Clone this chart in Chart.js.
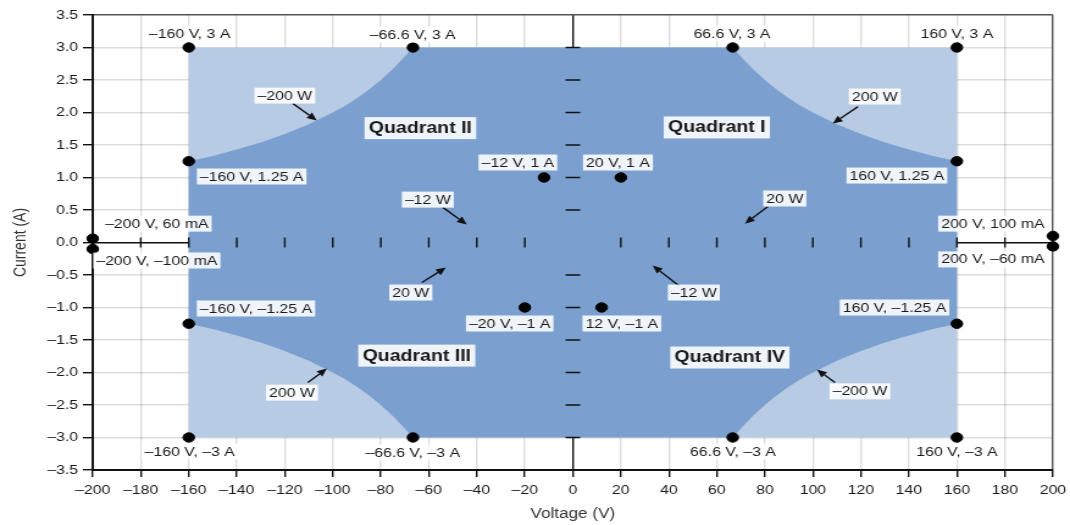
<!DOCTYPE html>
<html>
<head>
<meta charset="utf-8">
<script src="https://cdn.jsdelivr.net/npm/chart.js@4.4.1/dist/chart.umd.min.js"></script>
<style>
html,body{margin:0;padding:0;background:#fff;overflow:hidden;}
#wrap{width:1070px;height:525px;}
#c{display:block;}
</style>
</head>
<body>
<div id="wrap"><canvas id="c" width="877" height="525"></canvas></div>
<script>
// ---- data ----
const xTicks = [-200,-180,-160,-140,-120,-100,-80,-60,-40,-20,0,20,40,60,80,100,120,140,160,180,200];
const yTicks = [-3.5,-3,-2.5,-2,-1.5,-1,-0.5,0,0.5,1,1.5,2,2.5,3,3.5];

// operating limit rectangle (light area)
const rectV = [-160,-160,160,160,-160];
const rectI = [-3,3,3,-3,-3];

// 200 W power-limit boundary (first quadrant)
const curveV = [66.6,70,75,80,85,90,95,100,110,120,130,140,150,160];
const curveI = [3.0,2.86,2.67,2.5,2.35,2.22,2.1,2.0,1.82,1.67,1.54,1.43,1.33,1.25];

// marked operating points
const pointV = [-160,-66.6,66.6,160,-160,160,-12,20,-200,-200,200,200,-20,12,-160,160,-160,-66.6,66.6,160];
const pointI = [3,3,3,3,1.25,1.25,1,1,0.06,-0.1,0.1,-0.06,-1,-1,-1.25,-1.25,-3,-3,-3,-3];

// annotation texts with anchor (V, I)
const labelText = ['–160 V, 3 A','–66.6 V, 3 A','66.6 V, 3 A','160 V, 3 A','–200 W','200 W',
  '–160 V, 1.25 A','–12 V, 1 A','20 V, 1 A','160 V, 1.25 A','–12 W','20 W',
  '–200 V, 60 mA','200 V, 100 mA','–200 V, –100 mA','200 V, –60 mA','20 W','–12 W',
  '–160 V, –1.25 A','160 V, –1.25 A','–20 V, –1 A','12 V, –1 A','200 W','–200 W',
  '–160 V, –3 A','–66.6 V, –3 A','66.6 V, –3 A','160 V, –3 A'];
const labelV = [-159.6,-66.7,66.3,160,-120,125.8,
  -133.8,-22.9,18.8,135,-60.4,88.3,
  -173.3,175,-173.3,175,-67.5,50.4,
  -132,134,-26.3,20.4,-117,119.6,
  -159.6,-66.7,66.7,160];
const labelI = [3.215,3.2,3.215,3.215,2.26,2.246,
  1.015,1.23,1.23,1.03,0.66,0.677,
  0.29,0.29,-0.277,-0.26,-0.77,-0.77,
  -1.015,-1.0,-1.246,-1.246,-2.31,-2.29,
  -3.215,-3.23,-3.215,-3.215];

const quadText = ['Quadrant II','Quadrant I','Quadrant III','Quadrant IV'];
const quadV = [-63.5,60.0,-65.0,65.4];
const quadI = [1.76,1.77,-1.74,-1.77];

// arrows: from (V,I) to (V,I)
const arrowFromV = [-116.7,118.8,-54.2,81.3,-62.9,44.6,-110.4,109.2];
const arrowFromI = [2.14,2.09,0.54,0.554,-0.615,-0.677,-2.154,-2.154];
const arrowToV   = [-106.7,108.3,-44.2,71.7,-52.9,33.3,-102.5,101.7];
const arrowToI   = [1.877,1.83,0.277,0.29,-0.385,-0.354,-1.94,-1.954];

// ---- build shapes ----
const rectData = rectV.map((v,i)=>({x:v,y:rectI[i]}));
const darkData = [];
for (let i=curveV.length-1;i>=0;i--) darkData.push({x:-curveV[i],y:curveI[i]});
for (let i=0;i<curveV.length;i++) darkData.push({x:curveV[i],y:curveI[i]});
for (let i=curveV.length-1;i>=0;i--) darkData.push({x:curveV[i],y:-curveI[i]});
for (let i=0;i<curveV.length;i++) darkData.push({x:-curveV[i],y:-curveI[i]});
darkData.push({x:darkData[0].x,y:darkData[0].y});
const pointData = pointV.map((v,i)=>({x:v,y:pointI[i]}));

const FONT = "'Liberation Sans', Arial, sans-serif";
const fmt = s => String(s).replace('-', '–');
const GRID = 'rgba(0,15,50,0.14)';

const overlay = {
  id:'overlay',
  afterDraw(chart){
    const ctx = chart.ctx, xs = chart.scales.x, ys = chart.scales.y;
    const x0 = xs.getPixelForValue(0), y0 = ys.getPixelForValue(0);
    ctx.save();
    // center axis tick marks
    ctx.strokeStyle = '#111'; ctx.lineWidth = 1.4;
    ctx.beginPath();
    xTicks.forEach(v=>{ if (v===0||Math.abs(v)===200) return;
      const px = xs.getPixelForValue(v); ctx.moveTo(px,y0-5); ctx.lineTo(px,y0+5); });
    yTicks.forEach(v=>{ if (v===0||Math.abs(v)===3.5) return;
      const py = ys.getPixelForValue(v); ctx.moveTo(x0-6,py); ctx.lineTo(x0+6,py); });
    ctx.stroke();
    // arrows
    ctx.fillStyle = '#111'; ctx.strokeStyle = '#111'; ctx.lineWidth = 1.4;
    arrowFromV.forEach((v,i)=>{
      const ax = xs.getPixelForValue(v), ay = ys.getPixelForValue(arrowFromI[i]);
      const bx = xs.getPixelForValue(arrowToV[i]), by = ys.getPixelForValue(arrowToI[i]);
      const ang = Math.atan2(by-ay,bx-ax), L = 8, W = 3.5;
      const hx = bx - L*Math.cos(ang), hy = by - L*Math.sin(ang);
      ctx.beginPath(); ctx.moveTo(ax,ay); ctx.lineTo(hx,hy); ctx.stroke();
      ctx.beginPath(); ctx.moveTo(bx,by);
      ctx.lineTo(hx + W*Math.sin(ang), hy - W*Math.cos(ang));
      ctx.lineTo(hx - W*Math.sin(ang), hy + W*Math.cos(ang));
      ctx.closePath(); ctx.fill();
    });
    // labels
    ctx.textAlign = 'center'; ctx.textBaseline = 'middle';
    const box = (t,px,py,font,h,padX)=>{
      ctx.font = font;
      const w = ctx.measureText(t).width + padX*2;
      ctx.fillStyle = 'rgba(255,255,255,0.88)';
      ctx.fillRect(px-w/2, py-h/2, w, h);
      ctx.fillStyle = '#1a1a1a';
      ctx.fillText(t, px, py+0.5);
    };
    labelText.forEach((t,i)=> box(t, xs.getPixelForValue(labelV[i]), ys.getPixelForValue(labelI[i]), '13px '+FONT, 16, 2.5));
    quadText.forEach((t,i)=> box(t, xs.getPixelForValue(quadV[i]), ys.getPixelForValue(quadI[i]), 'bold 16px '+FONT, 22, 3.5));
    ctx.restore();
  }
};

const canvas = document.getElementById('c');
new Chart(canvas, {
  type:'scatter',
  data:{ datasets:[
    { data:pointData, backgroundColor:'#000', borderColor:'#000', pointRadius:4.7, pointHoverRadius:4.7, showLine:false, order:0, clip:false },
    { data:darkData, showLine:true, fill:'shape', backgroundColor:'#7ba0d0', borderWidth:0, borderColor:'rgba(0,0,0,0)', pointRadius:0, tension:0, order:2 },
    { data:rectData, showLine:true, fill:'shape', backgroundColor:'#b8cbe4', borderWidth:0, borderColor:'rgba(0,0,0,0)', pointRadius:0, tension:0, order:3 }
  ]},
  options:{
    responsive:false, animation:false, devicePixelRatio:1,
    layout:{ padding:{ top:15, right:14, left:0, bottom:0 } },
    plugins:{ legend:{display:false}, tooltip:{enabled:false} },
    scales:{
      x:{
        type:'linear', min:-200, max:200, z:1,
        afterBuildTicks: s => { s.ticks = xTicks.map(v=>({value:v})); },
        afterFit: s => { s.height = 55; s.paddingRight = 0; s.paddingLeft = 0; },
        ticks:{ callback:v=>fmt(v), font:{family:FONT,size:13}, color:'#1a1a1a', padding:6, maxRotation:0, autoSkip:false },
        grid:{
          color: c => c.tick && c.tick.value===0 ? '#111' : (c.tick && c.tick.value===200 ? '#555' : GRID),
          lineWidth: 1.4,
          tickColor:'#111', tickLength:7, drawTicks:true
        },
        border:{ color:'#111', width:2 },
        title:{ display:true, text:'Voltage (V)', font:{family:FONT,size:14}, color:'#333', padding:{top:2,bottom:2} }
      },
      y:{
        type:'linear', min:-3.5, max:3.5, z:1,
        afterBuildTicks: s => { s.ticks = yTicks.map(v=>({value:v})); },
        afterFit: s => { s.width = 76; s.paddingTop = 0; s.paddingBottom = 0; },
        ticks:{ callback:v=>fmt(Number(v).toFixed(1)), font:{family:FONT,size:13}, color:'#1a1a1a', padding:4, autoSkip:false },
        grid:{
          color: c => c.tick && c.tick.value===0 ? '#111' : (c.tick && c.tick.value===3.5 ? '#555' : GRID),
          lineWidth: 1.4,
          tickColor:'#111', tickLength:8, drawTicks:true
        },
        border:{ color:'#111', width:2 },
        title:{ display:true, text:'Current (A)', font:{family:FONT,size:14}, color:'#333', padding:{top:9,bottom:4} }
      }
    }
  },
  plugins:[overlay]
});
canvas.style.width = '1070px';
canvas.style.height = '525px';
</script>
</body>
</html>
